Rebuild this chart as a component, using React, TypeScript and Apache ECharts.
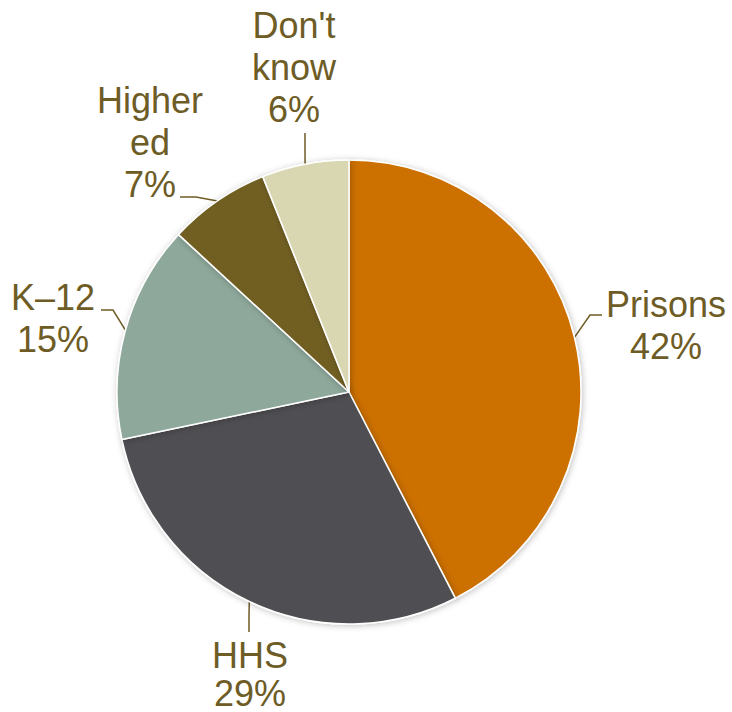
import React, { useEffect, useRef } from "react";
import * as echarts from "echarts";

const categories = ["Prisons", "HHS", "K\u201312", "Higher\ned", "Don't\nknow"];
const values = [42, 29, 15, 7, 6];
const colors = ["#CC7000", "#505053", "#8EA89B", "#715F24", "#D9D7B2"];

// label anchor (center of text block), line height and elbow/end points of the leader line
const labelSpots: { x: number; y: number; lh: number; elbow: [number, number]; end: [number, number] }[] = [
  { x: 666, y: 325, lh: 42, elbow: [590, 315], end: [602, 315] },
  { x: 250, y: 674, lh: 38, elbow: [249, 616], end: [249, 632] },
  { x: 53, y: 318, lh: 42, elbow: [113, 310], end: [101, 310] },
  { x: 150, y: 142, lh: 42, elbow: [196, 197], end: [180, 197] },
  { x: 294, y: 67, lh: 42, elbow: [305, 150], end: [305, 133] },
];

export default function App() {
  const ref = useRef<HTMLDivElement>(null);
  useEffect(() => {
    document.body.style.margin = "0";
    if (!ref.current) return;
    const chart = echarts.init(ref.current, null, { renderer: "svg" });
    chart.setOption({
      animation: false,
      backgroundColor: "#ffffff",
      series: [
        {
          type: "pie",
          center: [349, 392],
          radius: 232,
          startAngle: 90,
          clockwise: true,
          avoidLabelOverlap: false,
          data: categories.map((name, i) => ({
            name,
            value: values[i],
            itemStyle: { color: colors[i] },
            label: { lineHeight: labelSpots[i].lh },
          })),
          itemStyle: {
            borderColor: "#ffffff",
            borderWidth: 1.5,
            shadowBlur: 6,
            shadowColor: "rgba(0,0,0,0.25)",
            shadowOffsetX: 1,
            shadowOffsetY: 1,
          },
          label: {
            show: true,
            position: "outside",
            overflow: "none",
            formatter: (p: any) => `${p.name}\n${p.value}%`,
            fontFamily: "Liberation Sans, Arial, sans-serif",
            fontSize: 36,
            lineHeight: 42,
            color: "#6E5C26",
            align: "center",
          },
          labelLine: {
            show: true,
            lineStyle: { color: "#6E5C26", width: 1.5 },
          },
          labelLayout: (params: any) => {
            const s = labelSpots[params.dataIndex];
            const start = params.labelLinePoints ? params.labelLinePoints[0] : s.elbow;
            return {
              x: s.x,
              y: s.y,
              align: "center",
              verticalAlign: "middle",
              labelLinePoints: [start, s.elbow, s.end],
            };
          },
          emphasis: { disabled: true },
        },
      ],
    });
    return () => chart.dispose();
  }, []);
  return <div ref={ref} style={{ width: 732, height: 712 }} />;
}
